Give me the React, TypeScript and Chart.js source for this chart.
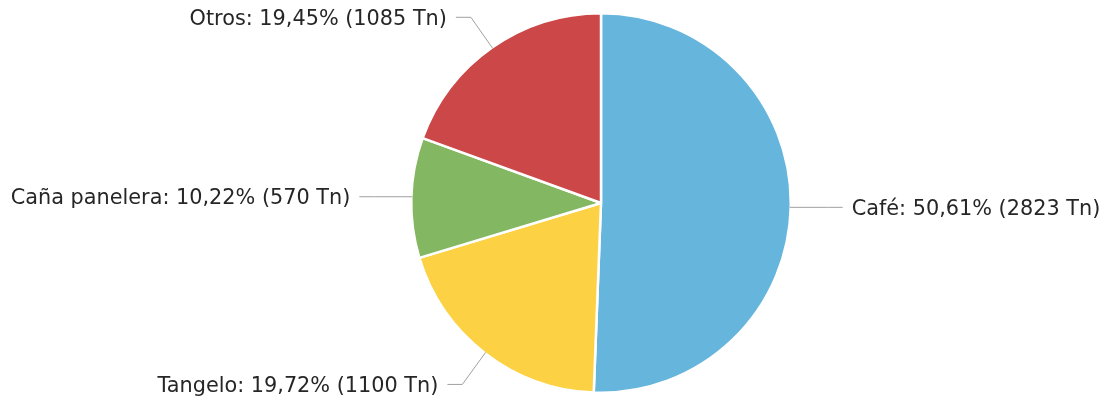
import React, { useEffect, useRef } from "react";
import { Chart, registerables } from "chart.js";

Chart.register(...registerables);

const categories: string[] = ["Café", "Tangelo", "Caña panelera", "Otros"];
const tonnes: number[] = [2823, 1100, 570, 1085];
const sliceColors: string[] = ["#65b5dc", "#fcd244", "#84b761", "#cc4748"];
const unit = "Tn";

const FONT = "20.8px 'DejaVu Sans', Verdana, sans-serif";

const labelPlugin = {
  id: "pieLabels",
  afterDraw(chart: any) {
    const ctx = chart.ctx as CanvasRenderingContext2D;
    const meta = chart.getDatasetMeta(0);
    const data = chart.data.datasets[0].data as number[];
    const total = data.reduce((a, b) => a + b, 0);
    ctx.save();
    ctx.font = FONT;
    meta.data.forEach((arc: any, i: number) => {
      const { x, y, startAngle, endAngle, outerRadius } = arc.getProps(
        ["x", "y", "startAngle", "endAngle", "outerRadius"],
        true
      );
      const mid = (startAngle + endAngle) / 2;
      const c = Math.cos(mid);
      const s = Math.sin(mid);
      const r0 = outerRadius - 1;
      const ex = x + c * r0;
      const rr = outerRadius + 37;
      const bx = x + c * rr;
      const nearHorizontal = Math.abs(s) < 0.2;
      const by = y + s * rr + (s > 0 && !nearHorizontal ? 2 : 0);
      const ey = nearHorizontal ? by : y + s * r0;
      const dir = c >= 0 ? 1 : -1;
      const hx = bx + dir * 15;
      ctx.strokeStyle = "#a0a0a0";
      ctx.lineWidth = 1;
      ctx.beginPath();
      ctx.moveTo(ex, ey);
      ctx.lineTo(bx, by);
      ctx.lineTo(hx, by);
      ctx.stroke();
      const pct = ((data[i] / total) * 100).toFixed(2).replace(".", ",");
      const text = `${chart.data.labels[i]}: ${pct}% (${data[i]} ${unit})`;
      ctx.fillStyle = "#262626";
      ctx.textBaseline = "middle";
      ctx.textAlign = dir > 0 ? "left" : "right";
      ctx.fillText(text, hx + dir * 9, by + 2);
    });
    ctx.restore();
  },
};

export default function App() {
  const ref = useRef<HTMLCanvasElement | null>(null);
  useEffect(() => {
    if (!ref.current) return;
    const chart = new Chart(ref.current, {
      type: "pie",
      data: {
        labels: categories,
        datasets: [
          {
            data: tonnes,
            backgroundColor: sliceColors,
            borderColor: "#ffffff",
            borderWidth: 2.5,
          },
        ],
      },
      options: {
        responsive: false,
        animation: false,
        layout: { padding: { left: 410, right: 315, top: 12, bottom: 6 } },
        plugins: {
          legend: { display: false },
          tooltip: { enabled: false },
        },
      },
      plugins: [labelPlugin],
    });
    return () => chart.destroy();
  }, []);
  return (
    <div style={{ position: "absolute", left: 0, top: 0, width: 1107, height: 400, background: "#fff" }}>
      <canvas ref={ref} width={1107} height={400} style={{ width: 1107, height: 400, display: "block" }} />
    </div>
  );
}
